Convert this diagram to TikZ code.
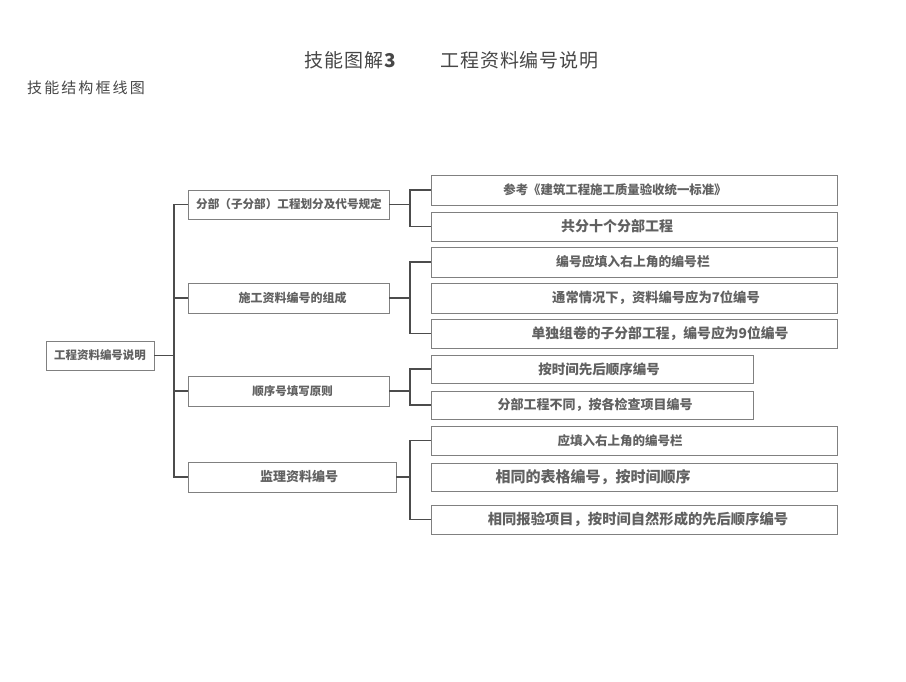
\documentclass[tikz,border=0pt]{standalone}
\usepackage{fontspec}
\setmainfont{Liberation Sans}
\newfontfamily\cjk{Noto Sans CJK SC}
\newfontfamily\cjksp[LetterSpace=5]{Noto Sans CJK SC}
\newfontfamily\cjksub[LetterSpace=14]{Noto Sans CJK SC}
\begin{document}
\begin{tikzpicture}[x=1pt,y=-1pt,
  box/.style={draw=black!50,line width=0.9pt,inner sep=0pt},
  txt/.style={font=\cjk\bfseries\fontsize{13.5}{14}\selectfont,text=black!62,inner sep=0pt},
  conn/.style={draw=black!70,line width=1.1pt}]
\useasboundingbox (0,0) rectangle (906,682);
% titles
\node[anchor=west,inner sep=0pt,text=black!72] (t1) at (304,60) {\cjksp\fontsize{19}{20}\selectfont 技能图解\textbf{\fontsize{19}{20}\selectfont 3}};
\node[anchor=west,inner sep=0pt,text=black!72] (t2) at (440,60) {\cjksp\fontsize{19}{20}\selectfont 工程资料编号说明};
\node[anchor=west,inner sep=0pt,text=black!72] (t3) at (27,88) {\cjksub\fontsize{15}{16}\selectfont 技能结构框线图};
% root
\node[box,minimum width=108pt,minimum height=29pt] (root) at (100,355.5) {};
\node[txt,font=\cjk\bfseries\fontsize{11.5}{12}\selectfont] (rootT) at (100,355.5) {工程资料编号说明};
% level 1
\node[box,minimum width=201pt,minimum height=29pt] (b1) at (288.5,204.5) {};
\node[box,minimum width=201pt,minimum height=30pt] (b2) at (288.5,298) {};
\node[box,minimum width=201pt,minimum height=30pt] (b3) at (288.5,391) {};
\node[box,minimum width=208pt,minimum height=30pt] (b4) at (292,477) {};
\node[txt,font=\cjk\bfseries\fontsize{11.6}{12}\selectfont] (b1T) at (289,204.5) {分部（子分部）工程划分及代号规定};
\node[txt,font=\cjk\bfseries\fontsize{12}{12}\selectfont] (b2T) at (292.5,298) {施工资料编号的组成};
\node[txt,font=\cjk\bfseries\fontsize{11.5}{12}\selectfont] (b3T) at (292.5,391) {顺序号填写原则};
\node[txt,font=\cjk\bfseries\fontsize{13}{12}\selectfont] (b4T) at (299,477) {监理资料编号};
% level 2
\node[box,minimum width=406pt,minimum height=30pt] (c1) at (634,190) {};
\node[box,minimum width=406pt,minimum height=29pt] (c2) at (634,226.5) {};
\node[box,minimum width=406pt,minimum height=30pt] (c3) at (634,262) {};
\node[box,minimum width=406pt,minimum height=30pt] (c4) at (634,298) {};
\node[box,minimum width=406pt,minimum height=29pt] (c5) at (634,333.5) {};
\node[box,minimum width=322pt,minimum height=28pt] (d1) at (592,369) {};
\node[box,minimum width=322pt,minimum height=28pt] (d2) at (592,405) {};
\node[box,minimum width=406pt,minimum height=29pt] (e1) at (634,440.5) {};
\node[box,minimum width=406pt,minimum height=28pt] (e2) at (634,477) {};
\node[box,minimum width=406pt,minimum height=29pt] (e3) at (634,519.5) {};
\node[txt,font=\cjk\bfseries\fontsize{12.4}{12}\selectfont] (c1T) at (615,190) {参考《建筑工程施工质量验收统一标准》};
\node[txt,font=\cjk\bfseries\fontsize{14}{12}\selectfont] (c2T) at (617,226.5) {共分十个分部工程};
\node[txt,font=\cjk\bfseries\fontsize{12.8}{12}\selectfont] (c3T) at (633,262) {编号应填入右上角的编号栏};
\node[txt,font=\cjk\bfseries\fontsize{13.3}{12}\selectfont] (c4T) at (656,298) {通常情况下，资料编号应为7位编号};
\node[txt,font=\cjk\bfseries\fontsize{13.8}{12}\selectfont] (c5T) at (660,333.5) {单独组卷的子分部工程，编号应为9位编号};
\node[txt,font=\cjk\bfseries\fontsize{13.5}{12}\selectfont] (d1T) at (599,369) {按时间先后顺序编号};
\node[txt,font=\cjk\bfseries\fontsize{13}{12}\selectfont] (d2T) at (595,405) {分部工程不同，按各检查项目编号};
\node[txt,font=\cjk\bfseries\fontsize{12.5}{12}\selectfont] (e1T) at (620,440.5) {应填入右上角的编号栏};
\node[txt,font=\cjk\bfseries\fontsize{15}{12}\selectfont] (e2T) at (593,477) {相同的表格编号，按时间顺序};
\node[txt,font=\cjk\bfseries\fontsize{14.3}{12}\selectfont] (e3T) at (638,519.5) {相同报验项目，按时间自然形成的先后顺序编号};
% trunk coordinates
\coordinate (k1) at (174,0);
\coordinate (k2) at (410,0);
% level 0 -> 1
\draw[conn] (root.east) -- (root.east -| k1);
\draw[conn] (b1.west) -| (b4.west -| k1) -- (b4.west);
\draw[conn] (b2.west) -- (b2.west -| k1);
\draw[conn] (b3.west) -- (b3.west -| k1);
% group 1
\draw[conn] (b1.east) -- (b1.east -| k2);
\draw[conn] (c1.west) -| (c2.west -| k2) -- (c2.west);
% group 2
\draw[conn] (b2.east) -- (b2.east -| k2);
\draw[conn] (c3.west) -| (c5.west -| k2) -- (c5.west);
% group 3
\draw[conn] (b3.east) -- (b3.east -| k2);
\draw[conn] (d1.west) -| (d2.west -| k2) -- (d2.west);
% group 4
\draw[conn] (b4.east) -- (b4.east -| k2);
\draw[conn] (e1.west) -| (e3.west -| k2) -- (e3.west);
\end{tikzpicture}
\end{document}
